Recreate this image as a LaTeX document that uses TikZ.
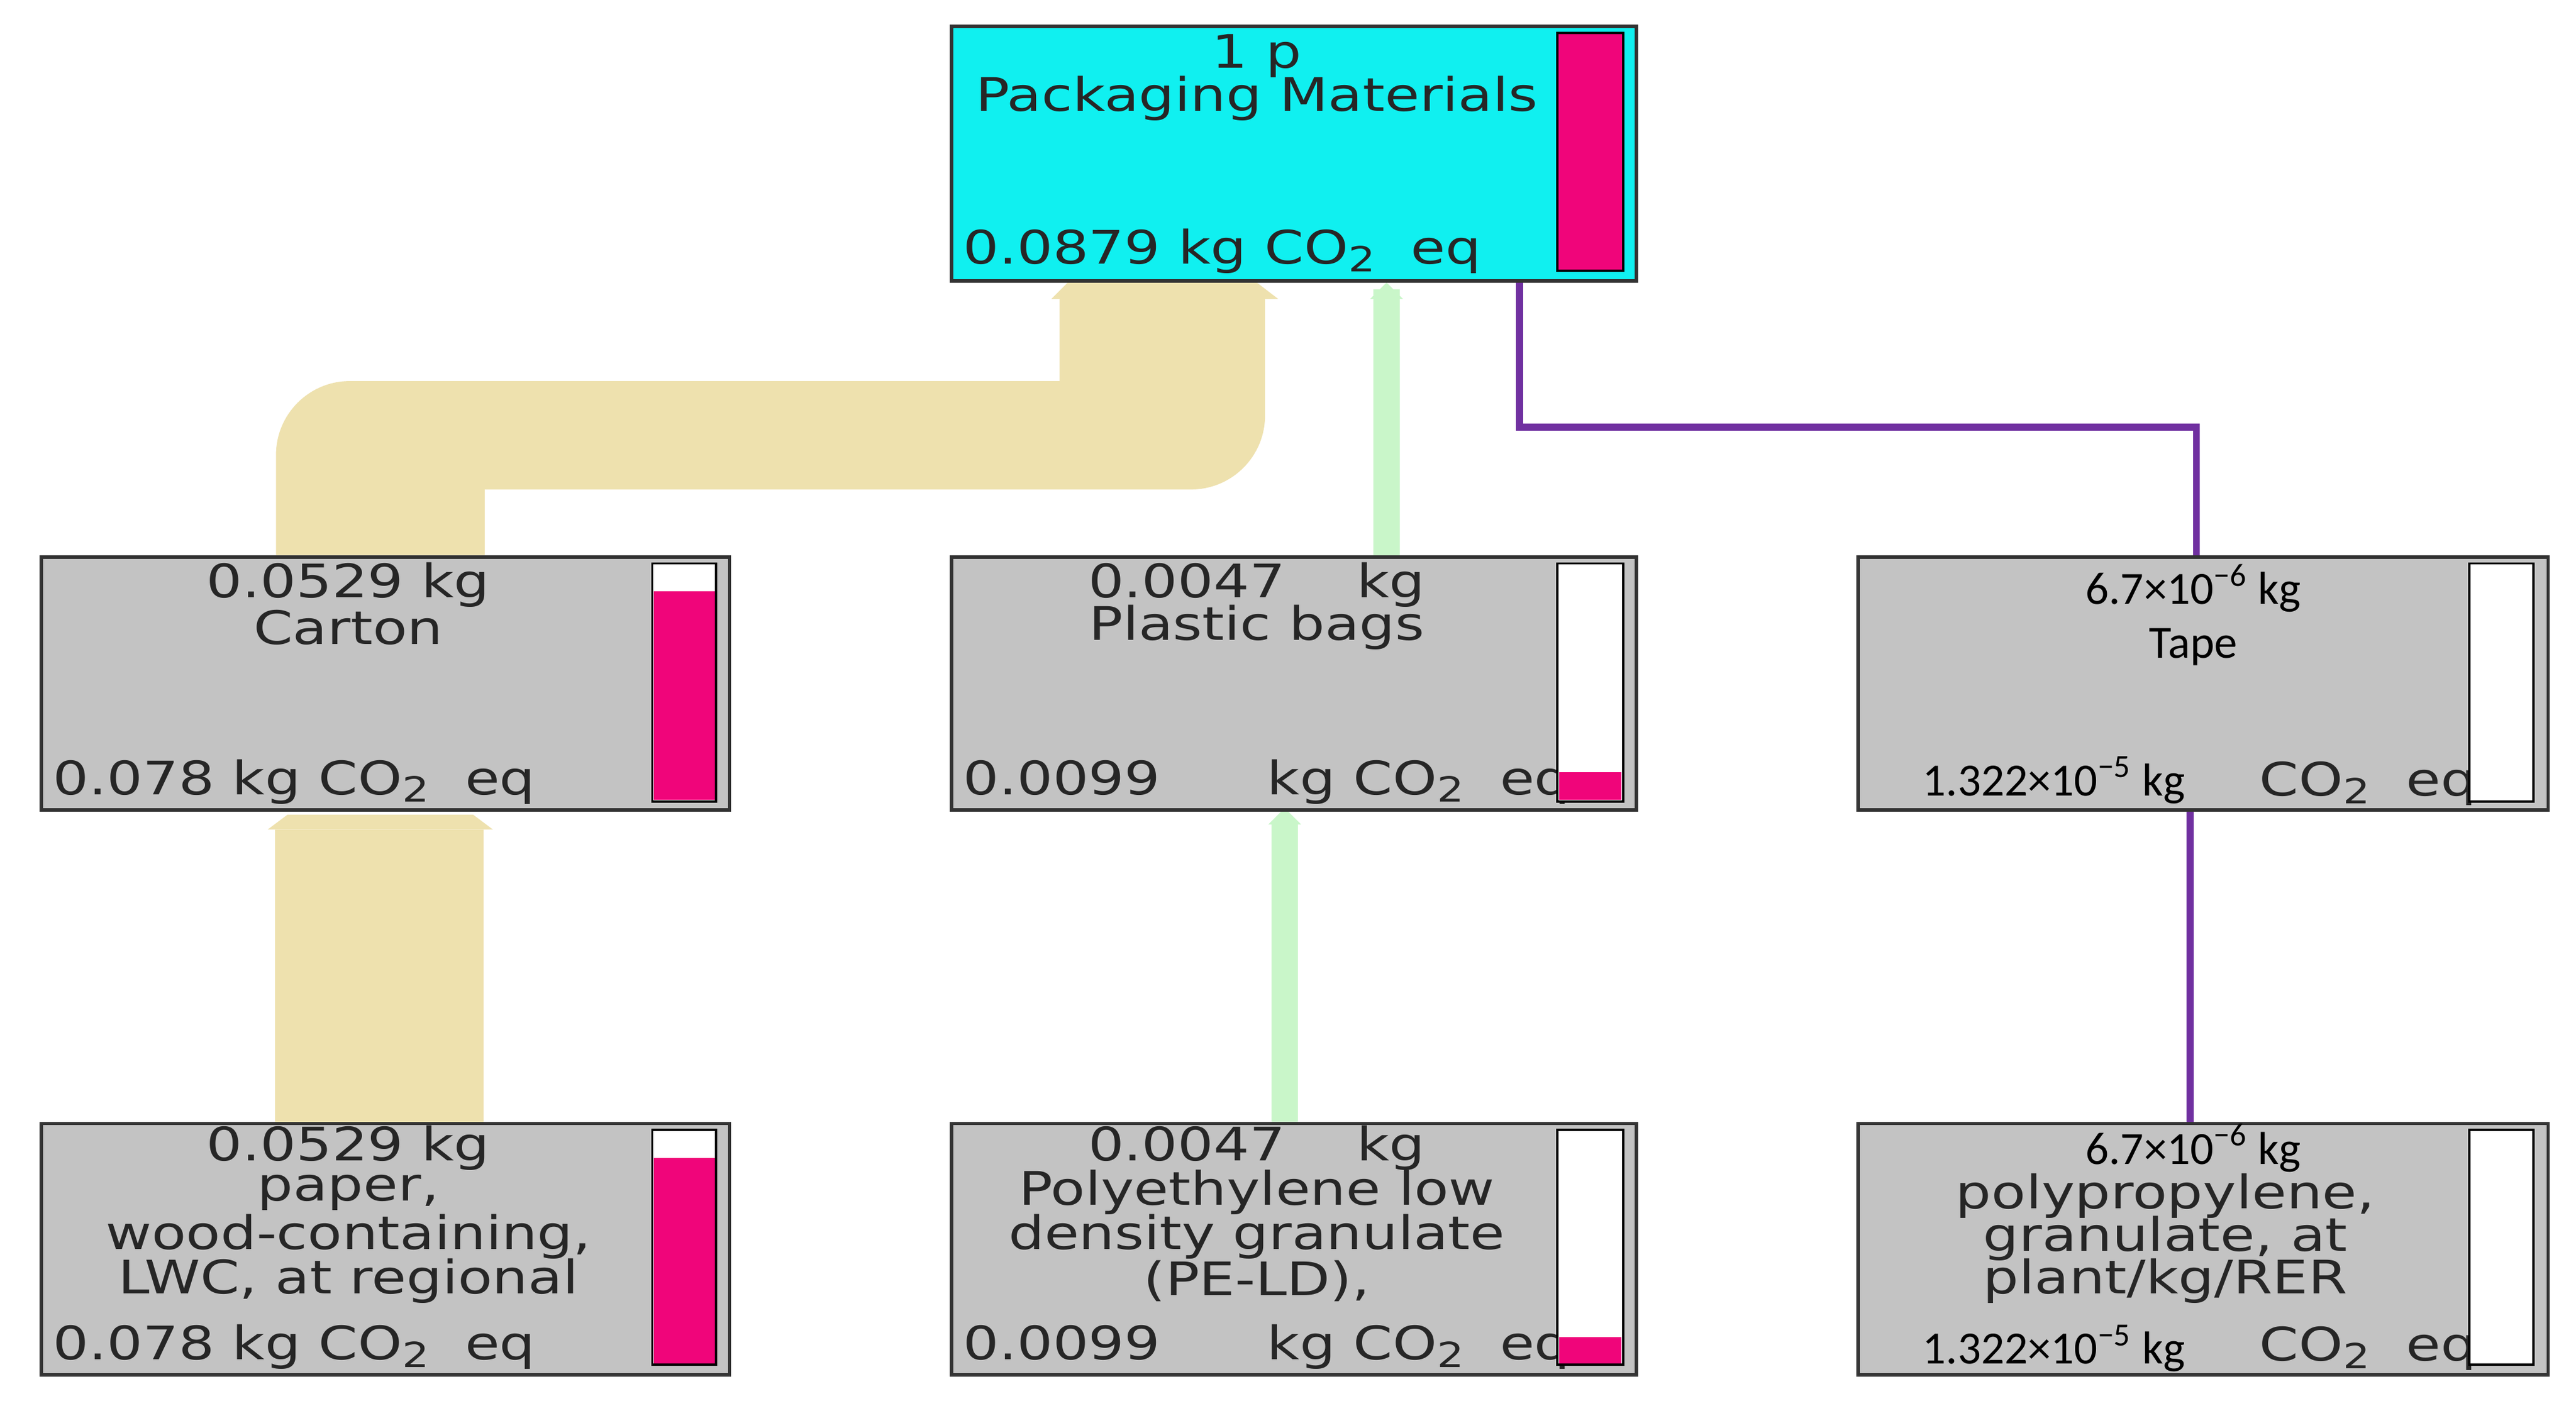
\documentclass[tikz,border=0pt]{standalone}
\usepackage{fontspec}
\setmainfont{DejaVu Sans}[FakeStretch=1.22]
\newfontfamily\calfont{Carlito}
\definecolor{boxgray}{HTML}{C3C3C3}
\definecolor{cyanbox}{HTML}{10F0F0}
\definecolor{mag}{HTML}{F0057A}
\definecolor{beige}{HTML}{EEE1AE}
\definecolor{lgreen}{HTML}{C9F6C9}
\definecolor{purp}{HTML}{7030A0}
\newcommand{\cotwo}{CO\raisebox{-0.3ex}{\fontsize{12}{12}\selectfont 2}}
\begin{document}
\begin{tikzpicture}[x=0.02cm,y=-0.02cm,
  box/.style={draw=black!80,line width=1.2pt,fill=boxgray},
  bar/.style={draw=black,line width=0.8pt,fill=white},
  t/.style={inner sep=0pt,font=\fontsize{16}{16}\selectfont,text=black!85},
  tc/.style={inner sep=0pt,font=\calfont\fontsize{16}{16}\selectfont},
  band/.style={draw=beige,line width=2.54cm},
  gline/.style={draw=lgreen,line width=0.32cm},
  pline/.style={draw=purp,line width=2.4pt}]
\useasboundingbox (0,0) rectangle (1568,856);
% flows
\coordinate (cartTop) at (231,338);
\coordinate (topIn) at (707,182);
\fill[beige] (168,338) [rounded corners=0.9cm] -- (168,232) [sharp corners] -- (645,232) -- (645,180)
  -- (770,180) [rounded corners=0.9cm] -- (770,298) [sharp corners] -- (295,298) -- (295,338) -- cycle;
\fill[beige] (640,182) -- (650,172) -- (765,172) -- (778,182) -- cycle;
\coordinate (paperTop) at (231,683);
\coordinate (cartIn) at (231,505);
\draw[band] (paperTop) -- (cartIn);
\fill[beige] (163,505) -- (175,496) -- (288,496) -- (300,505) -- cycle;
\coordinate (plTop) at (844,338);
\coordinate (topIn2) at (844,176);
\draw[gline] (plTop) -- (topIn2);
\fill[lgreen] (834,182) -- (844,172) -- (854,182) -- cycle;
\coordinate (peTop) at (782,683);
\coordinate (plIn) at (782,500);
\draw[gline] (peTop) -- (plIn);
\fill[lgreen] (772,502) -- (782,492) -- (792,502) -- cycle;
\coordinate (topOut) at (925,170);
\coordinate (tapeTop) at (1337,338);
\draw[pline] (topOut) -- (925,260) -- (1337,260) -- (tapeTop);
\coordinate (tapeBot) at (1333,492);
\coordinate (ppTop) at (1333,683);
\draw[pline] (tapeBot) -- (ppTop);
% top box
\node[box,fill=cyanbox,minimum width=417*0.02cm,minimum height=155*0.02cm,anchor=north west] (top) at (578,15) {};
\node[t] (t1) at (765,34) {1 p};
\node[t] (t2) at (765,60) {Packaging Materials};
\node[t,anchor=west] (t3) at (586,153) {0.0879 kg \cotwo\ \ eq};
\filldraw[bar,fill=mag] (948,20) rectangle (988,165);
% carton
\node[box,minimum width=419*0.02cm,minimum height=154*0.02cm,anchor=north west] (carton) at (24,338) {};
\node[t] (c1) at (212,356) {0.0529 kg};
\node[t] (c2) at (212,382) {Carton};
\node[t,anchor=west] (c3) at (32,476) {0.078 kg \cotwo\ \ eq};
\filldraw[bar] (397,343) rectangle (436,488);
\fill[mag] (398,360) rectangle (435,487);
% plastic bags
\node[box,minimum width=417*0.02cm,minimum height=154*0.02cm,anchor=north west] (plastic) at (578,338) {};
\node[t] (p1) at (765,356) {0.0047\ \ \ \ kg};
\node[t] (p2) at (765,382) {Plastic bags};
\node[t,anchor=west] (p3) at (586,476) {0.0099\hspace{1.3cm}kg \cotwo\ \ eq};
\filldraw[bar] (948,343) rectangle (988,488);
\fill[mag] (949,470) rectangle (987,487);
% tape
\node[box,minimum width=420*0.02cm,minimum height=154*0.02cm,anchor=north west] (tape) at (1130,338) {};
\node[tc] (ta1) at (1335,358) {6.7×10\textsuperscript{−6} kg};
\node[tc] (ta2) at (1335,394) {Tape};
\node[tc,anchor=west] (ta3) at (1170,475) {1.322×10\textsuperscript{−5} kg};
\node[t,anchor=west] (ta4) at (1375,477) {\cotwo\ \ eq};
\filldraw[bar] (1503,343) rectangle (1542,488);
% paper
\node[box,minimum width=419*0.02cm,minimum height=153*0.02cm,anchor=north west] (paper) at (24,683) {};
\node[t] (q1) at (212,699) {0.0529 kg};
\node[t] (q2) at (212,726) {paper,};
\node[t] (q3) at (212,753) {wood-containing,};
\node[t] (q4) at (212,780) {LWC, at regional};
\node[t,anchor=west] (q5) at (32,820) {0.078 kg \cotwo\ \ eq};
\filldraw[bar] (397,688) rectangle (436,831);
\fill[mag] (398,705) rectangle (435,830);
% PE-LD
\node[box,minimum width=417*0.02cm,minimum height=153*0.02cm,anchor=north west] (pe) at (578,683) {};
\node[t] (e1) at (765,699) {0.0047\ \ \ \ kg};
\node[t] (e2) at (765,726) {Polyethylene low};
\node[t] (e3) at (765,753) {density granulate};
\node[t] (e4) at (765,780) {(PE-LD),};
\node[t,anchor=west] (e5) at (586,820) {0.0099\hspace{1.3cm}kg \cotwo\ \ eq};
\filldraw[bar] (948,688) rectangle (988,831);
\fill[mag] (949,814) rectangle (987,830);
% PP
\node[box,minimum width=420*0.02cm,minimum height=153*0.02cm,anchor=north west] (pp) at (1130,683) {};
\node[tc] (r1) at (1335,699) {6.7×10\textsuperscript{−6} kg};
\node[t] (r2) at (1318,728) {polypropylene,};
\node[t] (r3) at (1318,754) {granulate, at};
\node[t] (r4) at (1318,780) {plant/kg/RER};
\node[tc,anchor=west] (r5) at (1170,821) {1.322×10\textsuperscript{−5} kg};
\node[t,anchor=west] (r6) at (1375,821) {\cotwo\ \ eq};
\filldraw[bar] (1503,688) rectangle (1542,831);
\end{tikzpicture}
\end{document}
